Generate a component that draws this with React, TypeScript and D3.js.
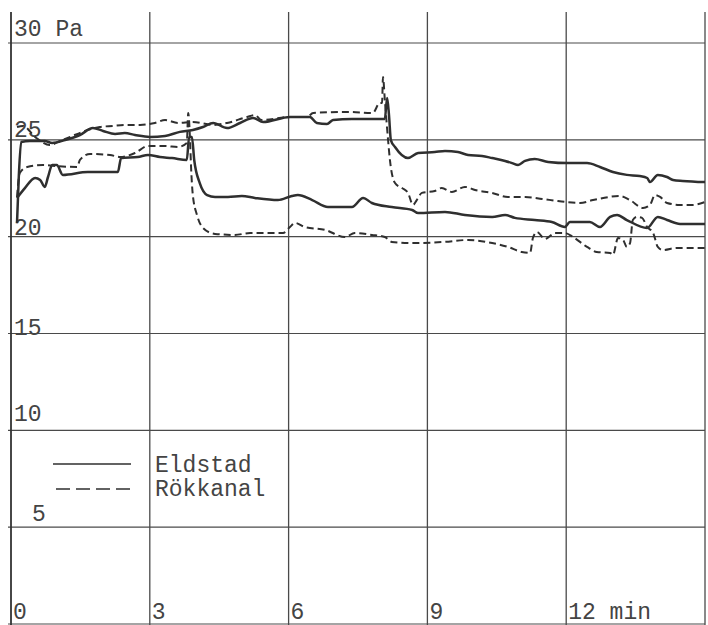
import React from "react";
import * as d3 from "d3";

// ---- data (time in min, pressure in Pa) ----
const timeTicks = [0, 3, 6, 9, 12, 15];
const timeLabels = ["0", "3", "6", "9", "12 min"];
const pressureTicks = [0, 5, 10, 15, 20, 25, 30];
const pressureLabelValues = [30, 25, 20, 15, 10, 5];
const pressureLabels = ["30 Pa", "25", "20", "15", "10", "5"];
const legendLabels = ["Eldstad", "Rökkanal"];

const eldstadHigh: [number, number][] = [
  [0.13, 20.71], [0.17, 23.19], [0.22, 24.89], [0.41, 24.94], [0.73, 24.94], [0.89, 24.84],
  [1.17, 24.99], [1.49, 25.25], [1.77, 25.61], [1.99, 25.46], [2.25, 25.3], [2.46, 25.35],
  [2.68, 25.25], [3.0, 25.15], [3.33, 25.2], [3.65, 25.41], [3.93, 25.51], [4.15, 25.66],
  [4.37, 25.87], [4.67, 25.61], [4.95, 25.87], [5.23, 26.13], [5.45, 25.92], [6.03, 26.18],
  [6.46, 26.18], [6.61, 25.87], [6.83, 25.82], [6.96, 26.02], [7.37, 26.08], [8.02, 26.08],
  [8.08, 26.08], [8.13, 27.16], [8.17, 26.28], [8.21, 24.99], [8.3, 24.63], [8.58, 24.06],
  [8.8, 24.32], [9.16, 24.37], [9.38, 24.42], [9.66, 24.37], [9.88, 24.22], [10.18, 24.17],
  [10.4, 24.06], [10.68, 23.91], [10.83, 23.8], [10.96, 23.7], [11.11, 23.91], [11.32, 24.01],
  [11.61, 23.86], [12.04, 23.8], [12.45, 23.8], [12.73, 23.6], [13.01, 23.34], [13.31, 23.19],
  [13.59, 23.13], [13.75, 23.03], [13.81, 22.82], [13.98, 23.19], [14.18, 23.08], [14.31, 22.93],
  [14.52, 22.88], [15.0, 22.82],
];

const rokkanalHigh: [number, number][] = [
  [0.13, 25.66], [0.26, 25.72], [0.52, 25.15], [0.84, 24.73], [1.06, 24.94], [1.28, 25.15],
  [1.6, 25.46], [1.92, 25.66], [2.2, 25.72], [2.46, 25.77], [2.79, 25.77], [3.11, 25.87],
  [3.33, 26.02], [3.61, 25.87], [3.93, 25.92], [4.37, 25.77], [4.67, 25.87], [5.1, 26.18],
  [5.27, 26.28], [5.42, 26.02], [6.03, 26.18], [6.4, 26.18], [6.53, 26.39], [7.26, 26.44],
  [7.82, 26.39], [7.97, 26.9], [8.02, 26.9], [8.04, 28.24], [8.08, 27.06], [8.15, 24.99],
  [8.19, 23.96], [8.3, 22.77], [8.45, 22.51], [8.58, 22.26], [8.69, 21.64], [8.77, 21.89],
  [8.88, 22.26], [9.16, 22.36], [9.31, 22.51], [9.53, 22.31], [9.81, 22.57], [10.03, 22.41],
  [10.4, 22.26], [10.74, 22.05], [11.11, 22.05], [11.48, 21.95], [11.82, 21.84], [12.3, 21.74],
  [12.58, 21.89], [13.16, 22.1], [13.38, 21.89], [13.66, 21.48], [13.81, 21.64], [13.92, 22.15],
  [14.03, 22.05], [14.18, 21.74], [14.46, 21.64], [14.74, 21.64], [15.0, 21.79],
];

const eldstadLow: [number, number][] = [
  [0.13, 22.0], [0.3, 22.51], [0.52, 23.03], [0.63, 22.93], [0.73, 22.57], [0.8, 23.08],
  [0.89, 23.7], [0.99, 23.7], [1.12, 23.19], [1.66, 23.34], [2.31, 23.34], [2.38, 24.06],
  [2.74, 24.11], [2.96, 24.22], [3.22, 24.11], [3.48, 24.06], [3.8, 23.96], [3.85, 25.15],
  [3.91, 25.15], [3.96, 23.96], [4.08, 22.77], [4.24, 22.15], [4.41, 22.05], [4.69, 22.05],
  [4.99, 22.1], [5.27, 22.0], [5.77, 21.89], [6.07, 22.1], [6.2, 22.15], [6.51, 21.89],
  [6.85, 21.53], [7.37, 21.53], [7.61, 22.0], [7.8, 21.74], [8.23, 21.53], [8.67, 21.38],
  [8.8, 21.22], [9.38, 21.28], [9.81, 21.12], [10.4, 21.02], [10.68, 21.12], [10.89, 20.97],
  [11.32, 20.86], [11.69, 20.76], [11.97, 20.5], [12.08, 20.76], [12.51, 20.76], [12.73, 20.5],
  [12.95, 21.02], [13.1, 21.12], [13.31, 20.86], [13.75, 20.45], [13.98, 21.02], [14.18, 20.86],
  [14.46, 20.66], [15.0, 20.66],
];

const rokkanalLow: [number, number][] = [
  [0.13, 22.05], [0.19, 23.29], [0.35, 23.6], [0.69, 23.7], [0.95, 23.65], [1.43, 23.6],
  [1.49, 23.96], [1.71, 24.27], [2.14, 24.22], [2.36, 24.11], [2.68, 24.32], [2.96, 24.68],
  [3.33, 24.68], [3.61, 24.63], [3.8, 24.84], [3.83, 26.39], [3.87, 24.99], [3.89, 23.7],
  [3.93, 22.15], [4.02, 21.12], [4.15, 20.45], [4.41, 20.14], [4.84, 20.09], [5.17, 20.19],
  [5.88, 20.19], [6.03, 20.5], [6.14, 20.71], [6.35, 20.5], [6.79, 20.35], [7.22, 19.98],
  [7.43, 20.19], [7.8, 20.09], [8.08, 19.98], [8.23, 19.73], [8.67, 19.67], [9.38, 19.73],
  [9.88, 19.83], [10.4, 19.67], [10.74, 19.47], [11.04, 19.21], [11.22, 19.16], [11.28, 19.93],
  [11.37, 20.24], [11.54, 19.88], [11.76, 20.19], [11.97, 20.19], [12.15, 19.98], [12.45, 19.47],
  [12.66, 19.21], [12.95, 19.16], [13.01, 19.06], [13.12, 19.93], [13.23, 19.83], [13.31, 19.47],
  [13.38, 19.67], [13.44, 20.86], [13.53, 21.02], [13.64, 20.97], [13.75, 20.5], [13.88, 20.19],
  [13.98, 19.47], [14.09, 19.31], [14.39, 19.42], [15.0, 19.42],
];

// ---- layout & style ----
const W = 708;
const H = 625;
const INK = "#2f2f2f";
const FONT = "'Liberation Mono', 'Courier New', monospace";
const FONT_SIZE = 23;
const labelOffsets: Record<number, [number, number]> = {
  30: [1, -7], 25: [1, -3], 20: [1, -2], 15: [1, 1], 10: [1, -9], 5: [19, -6],
};

export default function App() {
  const x = d3.scaleLinear().domain([0, 15]).range([11, 705]);
  const y = d3.scaleLinear().domain([0, 30]).range([624, 43]);
  const line = d3
    .line<[number, number]>()
    .x((d) => x(d[0]))
    .y((d) => y(d[1]))
    .curve(d3.curveMonotoneX);

  const solid = { fill: "none", stroke: INK, strokeWidth: 2.5, strokeLinejoin: "round" as const };
  const dashed = { ...solid, strokeWidth: 2, strokeDasharray: "7 4" };

  return (
    <svg
      width={W}
      height={H}
      style={{ position: "absolute", left: 0, top: 0, background: "#fff" }}
    >
      <rect x={0} y={0} width={W} height={H} fill="#fff" />
      {/* grid */}
      {pressureTicks.map((v) => (
        <line key={"h" + v} x1={8} x2={705} y1={y(v)} y2={y(v)} stroke="#4a4a4a" strokeWidth={1.2} />
      ))}
      {timeTicks.map((t) => (
        <line
          key={"v" + t}
          x1={x(t)}
          x2={x(t)}
          y1={12}
          y2={H}
          stroke={t === 0 ? "#333" : "#4a4a4a"}
          strokeWidth={t === 0 ? 1.8 : 1.3}
        />
      ))}
      {/* y labels */}
      {pressureLabelValues.map((v, i) => (
        <text
          key={"yl" + v}
          x={13 + labelOffsets[v][0]}
          y={y(v) + labelOffsets[v][1]}
          fontFamily={FONT}
          fontSize={FONT_SIZE}
          fill="#444"
        >
          {pressureLabels[i]}
        </text>
      ))}
      {/* x labels */}
      {timeLabels.map((l, i) => (
        <text
          key={"xl" + i}
          x={x(timeTicks[i]) + 2}
          y={619}
          fontFamily={FONT}
          fontSize={FONT_SIZE}
          fill="#444"
        >
          {l}
        </text>
      ))}
      {/* curves */}
      <path d={line(eldstadHigh) || ""} {...solid} />
      <path d={line(eldstadLow) || ""} {...solid} />
      <path d={line(rokkanalHigh) || ""} {...dashed} />
      <path d={line(rokkanalLow) || ""} {...dashed} />
      {/* legend */}
      <line x1={53} x2={131} y1={464} y2={464} stroke={INK} strokeWidth={1.6} />
      <line x1={56} x2={130} y1={489} y2={489} stroke={INK} strokeWidth={1.6} strokeDasharray="14 6" />
      {legendLabels.map((l, i) => (
        <text
          key={"lg" + i}
          x={155}
          y={472 + i * 24}
          fontFamily={FONT}
          fontSize={FONT_SIZE}
          fill="#444"
        >
          {l}
        </text>
      ))}
    </svg>
  );
}
